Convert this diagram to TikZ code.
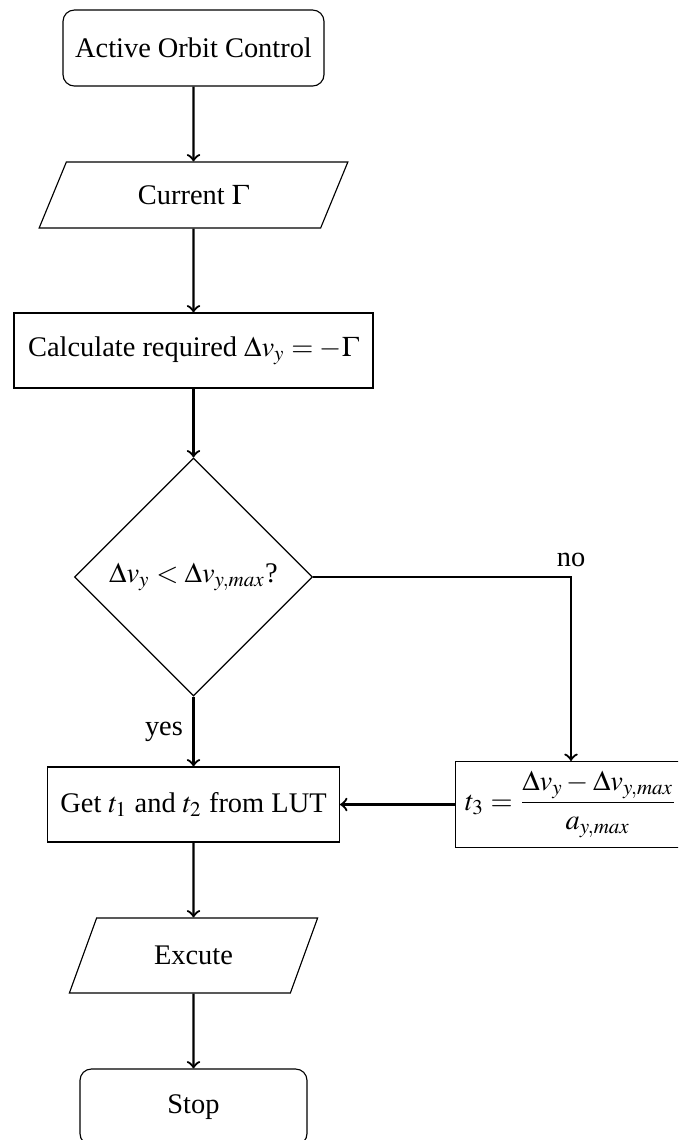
\documentclass[tikz,border=0pt]{standalone}
\usepackage{mathptmx}
\usepackage[no-math]{fontspec}
\setmainfont{Liberation Serif}
\usetikzlibrary{shapes.geometric,arrows}
\def\pu{0.352pt}
\tikzset{
  base/.style={draw=black, line width=0.4pt, align=center, font=\normalsize},
  termbox/.style={base, rectangle, rounded corners=4pt},
  procbox/.style={base, rectangle},
  iobox/.style={base, shape=trapezium, trapezium left angle=70, trapezium right angle=110, trapezium stretches=true},
  decbox/.style={base, shape=diamond, aspect=1},
  arr/.style={->, thick},
}
\begin{document}
\begin{tikzpicture}[x=0.352pt, y=-0.352pt]
\useasboundingbox (0,0) rectangle (678,1140);
\clip (0,0) rectangle (678,1140);
\node[termbox, minimum width=261*\pu, minimum height=76*\pu] (start) at (193.5,48) {Active Orbit Control};
\node[iobox, minimum width=309*\pu, minimum height=66*\pu] (in1) at (193.5,195) {Current $\Gamma$};
\node[procbox, minimum width=359*\pu, minimum height=75*\pu] (calc) at (193.5,350.5) {Calculate required $\Delta v_y = -\Gamma$};
\node[decbox, minimum width=238*\pu, minimum height=238*\pu] (dia) at (193.5,577) {$\Delta v_y < \Delta v_{y,max}$?};
\node[procbox, minimum width=292*\pu, minimum height=75*\pu] (get) at (193.5,804.5) {Get $t_1$ and $t_2$ from LUT};
\node[procbox] (rb) at (571,804.5) {$t_3 = \displaystyle\frac{\Delta v_y - \Delta v_{y,max}}{a_{y,max}}$};
\node[iobox, minimum width=249*\pu, minimum height=75*\pu] (out) at (193.5,955.5) {Excute};
\node[termbox, minimum width=227*\pu, minimum height=76*\pu] (stop) at (193.5,1107) {Stop};
\draw[arr] (start) -- (in1);
\draw[arr] (in1) -- (calc);
\draw[arr] (calc) -- (dia);
\draw[arr] (dia) -- node[left] (yes) {yes} (get);
\draw[arr] (dia.east) -| node[pos=0.5, above] (no) {no} (rb);
\draw[arr] (rb) -- (get);
\draw[arr] (get) -- (out);
\draw[arr] (out) -- (stop);
\end{tikzpicture}
\end{document}
